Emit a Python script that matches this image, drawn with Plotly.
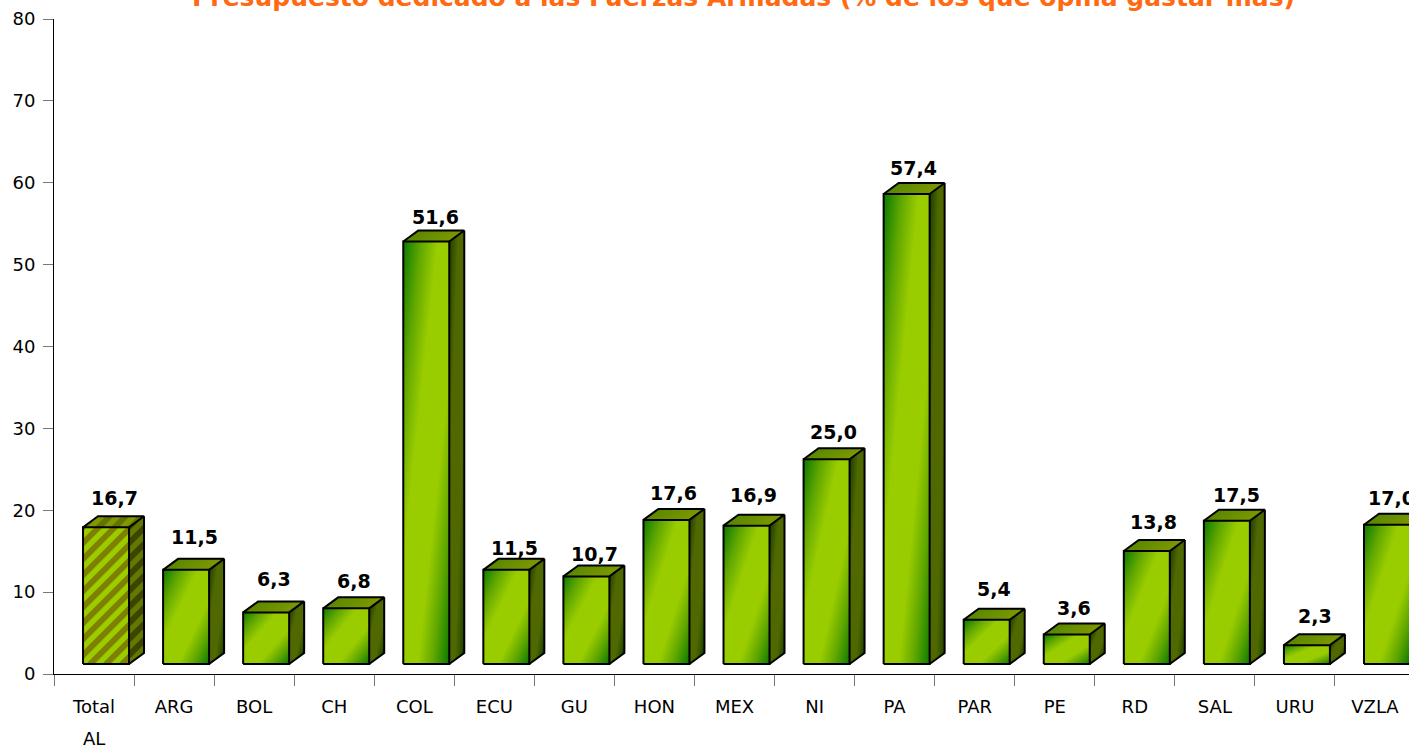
import numpy as np
import plotly.graph_objects as go

# ---- data ----
categories = ["Total", "ARG", "BOL", "CH", "COL", "ECU", "GU", "HON", "MEX", "NI", "PA", "PAR", "PE", "RD", "SAL", "URU", "VZLA"]
values = [16.7, 11.5, 6.3, 6.8, 51.6, 11.5, 10.7, 17.6, 16.9, 25.0, 57.4, 5.4, 3.6, 13.8, 17.5, 2.3, 17.0]
y_ticks = [0, 10, 20, 30, 40, 50, 60, 70, 80]
title_text = "Presupuesto dedicado a las Fuerzas Armadas (% de los que opina gastar más)"

# ---- label placement (pixels relative to the bar's front top) ----
label_dx = [20, 20, 20, 20, 21, 20, 20, 19, 19, 19, 19, 19, 19, 19, 22, 20, 17]
label_dy = [29, 33, 33, 27, 25, 22, 22, 27, 31, 27, 26, 31, 27, 29, 26, 29, 27]

# ---- scales and geometry ----
W, H = 1409, 746
L, T, B_Y = 54, 19, 674
STEP = 80.06
PX_Y = (B_Y - T) / 80
FONT = "Comic Sans MS, DejaVu Sans, sans-serif"
X_MAX = (W - L) / STEP - 0.5
FRONT_PX, SIDE_PX, RISE_PX = 46, 15, 11
BAR_W = FRONT_PX / STEP
DX = SIDE_PX / STEP
DY = RISE_PX / PX_Y
X_OFF = -11 / STEP
BASE = 10 / PX_Y

GRAD = [[0, "#0a7a00"], [0.2, "#62a800"], [0.38, "#9acd00"], [0.66, "#9acd00"], [0.82, "#62a800"], [1, "#0a7a00"]]
GRAD_SIDE = [[0, "#1c3f00"], [0.3, "#4f6800"], [0.7, "#4f6800"], [1, "#1c3f00"]]
GRAD_TOP = [[0, "#5a8800"], [1, "#7c9800"]]
ST_FRONT = [[0, "#808000"], [1, "#9acd00"]]
ST_SIDE = [[0, "#404200"], [1, "#5f7a00"]]
ST_TOP = [[0, "#667000"], [1, "#7f9a00"]]


def stripes(px, py):
    phase = ((px + py) / 16.0) % 1.0
    return np.clip(2.6 - 8.8 * np.abs(phase - 0.5), 0, 1)


def face(x0, y0, wid, hei, nx, ny, zfun, scale):
    xs = x0 + (np.arange(nx) + 0.5) * wid / nx
    ys = y0 + (np.arange(ny) + 0.5) * hei / ny
    xx, yy = np.meshgrid(xs, ys)
    z = zfun(xx, yy)
    return go.Heatmap(x=xs.tolist(), y=ys.tolist(), z=np.round(z, 3).tolist(), colorscale=scale, zmin=0, zmax=1,
                      showscale=False, zsmooth=False, hoverinfo="skip", xaxis="x", yaxis="y")


fig = go.Figure()
ox, oy = [], []
for k, v in enumerate(values):
    x0 = k + X_OFF
    y0 = BASE
    y1 = BASE + v
    x1 = x0 + BAR_W
    hpx = max(1, int(round(v * PX_Y)))
    pat = k == 0

    def front(xx, yy, x0=x0, y0=y0, y1=y1, x1=x1):
        if pat:
            return stripes((xx - x0) * STEP, (y1 - yy) * PX_Y)
        return ((xx - x0) / (x1 - x0) + (y1 - yy) / (y1 - y0)) / 2

    def side(xx, yy, x1=x1, y0=y0, y1=y1):
        off = (xx - x1) * DY / DX
        res = stripes((xx - x1) * STEP, (y1 - yy) * PX_Y) if pat else ((xx - x1) / DX + (y1 + off - yy) / (y1 - y0)) / 2
        return np.where((yy >= y0 + off) & (yy <= y1 + off), res, np.nan)

    def top(xx, yy, x0=x0, x1=x1, y1=y1):
        off = (yy - y1) * DX / DY
        res = stripes((xx - x0) * STEP, (y1 - yy) * PX_Y) if pat else (xx - x0 - off) / (x1 - x0)
        return np.where((xx >= x0 + off) & (xx <= x1 + off), res, np.nan)

    fig.add_trace(face(x0, y0, BAR_W, v, FRONT_PX, hpx, front, ST_FRONT if pat else GRAD))
    fig.add_trace(face(x1, y0, DX, v + DY, SIDE_PX, hpx + RISE_PX, side, ST_SIDE if pat else GRAD_SIDE))
    fig.add_trace(face(x0, y1, BAR_W + DX, DY, FRONT_PX + SIDE_PX, RISE_PX, top, ST_TOP if pat else GRAD_TOP))

    ox += [x0, x1, x1, x0, x0, None, x0, x0 + DX, x1 + DX, x1, None, x1 + DX, x1 + DX, x1, None]
    oy += [y0, y0, y1, y1, y0, None, y1, y1 + DY, y1 + DY, y1, None, y1 + DY, y0 + DY, y0, None]

fig.add_trace(go.Scatter(x=ox, y=oy, mode="lines", line=dict(color="black", width=2), hoverinfo="skip",
                         showlegend=False, xaxis="x", yaxis="y"))
# invisible carrier for the category-label axis
fig.add_trace(go.Scatter(x=list(range(len(categories))), y=values, mode="markers", marker=dict(opacity=0),
                         hoverinfo="skip", showlegend=False, xaxis="x2", yaxis="y"))

annotations = []
for k, v in enumerate(values):
    annotations.append(dict(x=k, y=BASE + v, xref="x", yref="y", xshift=label_dx[k], yshift=label_dy[k],
                            text=f"{v:.1f}".replace(".", ","), showarrow=False, yanchor="middle", xanchor="center",
                            font=dict(family=FONT, size=19, color="black", weight="bold")))
annotations.append(dict(x=0, y=0, xref="x", yref="y", yshift=-(738 - B_Y), text="AL", showarrow=False,
                        yanchor="middle", xanchor="center", font=dict(family=FONT, size=18, color="black")))
annotations.append(dict(x=(743.5 - L) / STEP - 0.5, y=80, xref="x", yref="y", yshift=T + 3, text=title_text,
                        showarrow=False, yanchor="middle", xanchor="center",
                        font=dict(family=FONT, size=25, color="#ff6a13", weight="bold")))

fig.update_layout(
    width=W, height=H, autosize=False,
    margin=dict(l=L, r=0, t=T, b=H - B_Y, pad=0),
    paper_bgcolor="white", plot_bgcolor="white", showlegend=False,
    annotations=annotations,
    xaxis=dict(range=[-0.5, X_MAX], tickmode="array", tickvals=[i - 0.5 for i in range(len(categories) + 1)],
               ticktext=[""] * (len(categories) + 1), ticks="outside", ticklen=11, tickwidth=1, tickcolor="#777777",
               showline=True, linecolor="black", linewidth=1, showgrid=False, zeroline=False, fixedrange=True),
    xaxis2=dict(range=[-0.5, X_MAX], overlaying="x", anchor="y", side="bottom", tickmode="array",
                tickvals=list(range(len(categories))), ticktext=categories, ticks="", showline=False,
                showgrid=False, zeroline=False, ticklabelstandoff=20, fixedrange=True,
                tickfont=dict(family=FONT, size=18, color="black")),
    yaxis=dict(range=[0, 80], tickmode="array", tickvals=y_ticks, ticks="outside", ticklen=10, tickwidth=1,
               tickcolor="#777777", showline=True, linecolor="black", linewidth=1, showgrid=False, zeroline=False,
               ticklabelstandoff=4, fixedrange=True, tickfont=dict(family=FONT, size=18, color="black")),
)

fig.write_html("out.html", config=dict(displayModeBar=False, responsive=False),
               post_script="document.body.style.margin='0';document.body.style.overflow='hidden';")
